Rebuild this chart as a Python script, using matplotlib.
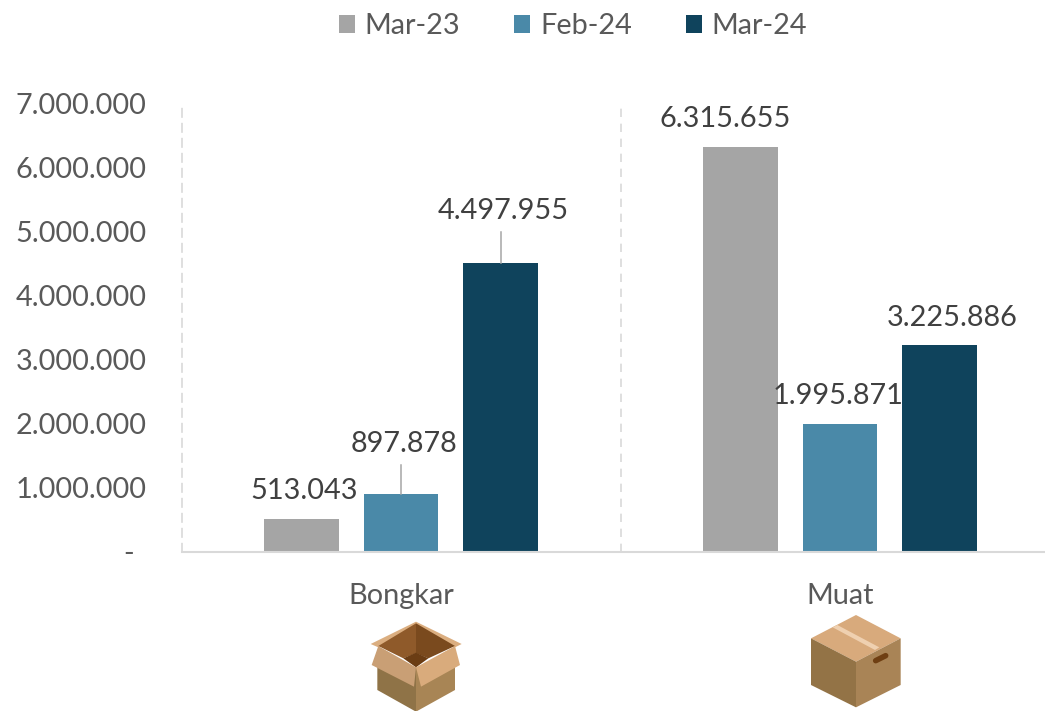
import numpy as np
import matplotlib
matplotlib.use("Agg")
import matplotlib.pyplot as plt
from matplotlib.patches import Polygon

plt.rcParams["font.family"] = ["Lato", "DejaVu Sans"]

categories = ["Bongkar", "Muat"]
series_names = ["Mar-23", "Feb-24", "Mar-24"]
mar_23 = [513043, 6315655]
feb_24 = [897878, 1995871]
mar_24 = [4497955, 3225886]
y_ticks = [0, 1000000, 2000000, 3000000, 4000000, 5000000, 6000000, 7000000]

colors = ["#A5A5A5", "#4A89A8", "#0F435C"]
W, H = 1045, 711
FS = 20.8

fig = plt.figure(figsize=(W / 100, H / 100), dpi=100)
# the plot area runs past the right edge of the picture, as in the original
ax = fig.add_axes([182 / W, 1 - 552 / H, 878 / W, 449 / H])

x = np.arange(len(categories)) - 0.5 / 439
step = 99.6 / 439
width = 74.5 / 439
bars = []
for i, vals in enumerate([mar_23, feb_24, mar_24]):
    bars.append(ax.bar(x + (i - 1) * step, vals, width, color=colors[i], label=series_names[i]))

ax.set_xlim(-0.5, 1.5)
ax.set_ylim(0, 7000000)
ax.set_yticks(y_ticks)
ax.set_yticklabels([f"{v:,}".replace(",", ".") if v else "-" for v in y_ticks])
ax.tick_params(axis="y", length=0, pad=25.5, labelsize=FS, labelcolor="#595959")
ax.set_xticks(np.arange(len(categories)))
ax.set_xticklabels(categories)
ax.tick_params(axis="x", length=0, pad=22.5, labelsize=FS, labelcolor="#595959")
ax.get_yticklabels()[0].set_x(-13 / 878)

for s in ["top", "right"]:
    ax.spines[s].set_visible(False)
ax.spines["bottom"].set_color("#D9D9D9")
ax.spines["bottom"].set_linewidth(1.5)
ax.spines["left"].set_color("#D9D9D9")
ax.spines["left"].set_linewidth(1.2)
ax.spines["left"].set_linestyle((0, (5, 4)))
ax.axvline(0.5, color="#D9D9D9", lw=1.2, ls=(0, (5, 4)))

# label offsets from the top centre of each bar, in pixels (dx, dy)
offsets = [
    [(3, 28), (-15, 28)],
    [(3, 50), (-2, 28)],
    [(3, 52), (13, 27)],
]
for i, group in enumerate(bars):
    for j, b in enumerate(group):
        v = b.get_height()
        cx = b.get_x() + b.get_width() / 2
        dx, dy = offsets[i][j]
        ax.annotate(f"{int(v):,}".replace(",", "."), (cx, v), xytext=(dx * 0.72, dy * 0.72),
                    textcoords="offset points", ha="center", va="center",
                    fontsize=FS, color="#404040", annotation_clip=False)
        if dy > 40:
            ax.plot([cx, cx], [v, v + (dy - 21) * 7000000 / 449], color="#A6A6A6", lw=1.1, clip_on=False)

handles = [b.patches[0] for b in bars]
fig.legend(handles, series_names, loc="center", bbox_to_anchor=(573 / W, 1 - 26 / H), ncol=3,
           frameon=False, fontsize=FS, labelcolor="#595959", handlelength=0.56, handleheight=0.56,
           handletextpad=0.35, columnspacing=1.85)

# box icons under the category names, drawn in picture pixels
ov = fig.add_axes([0, 0, 1, 1], facecolor="none")
ov.set_xlim(0, W)
ov.set_ylim(H, 0)
ov.axis("off")


def shape(ox, oy, pts, color):
    # pts come from a 3x crop of the icon
    ov.add_patch(Polygon([(ox + a / 3, oy + b / 3) for a, b in pts], closed=True, fc=color, ec="none"))


# open box
ox, oy = 340, 570
shape(ox, oy, [(228, 155), (92, 222), (115, 232), (228, 170), (345, 232), (365, 222)], "#DBAE80")
shape(ox, oy, [(228, 160), (115, 228), (190, 265), (228, 250)], "#8F5A2A")
shape(ox, oy, [(228, 160), (345, 228), (265, 265), (228, 250)], "#7A4A1E")
shape(ox, oy, [(190, 265), (228, 248), (265, 265), (228, 292)], "#6B3D14")
shape(ox, oy, [(112, 270), (228, 292), (228, 425), (112, 360)], "#8F7347")
shape(ox, oy, [(345, 270), (228, 292), (228, 425), (345, 360)], "#A88555")
shape(ox, oy, [(115, 228), (228, 292), (222, 350), (95, 285)], "#C99F75")
shape(ox, oy, [(345, 228), (228, 292), (243, 350), (360, 285)], "#D9AB7C")

# closed box
ox, oy = 780, 570
shape(ox, oy, [(228, 135), (362, 205), (228, 275), (93, 205)], "#D8AA7C")
shape(ox, oy, [(93, 205), (228, 275), (228, 412), (93, 345)], "#937346")
shape(ox, oy, [(362, 205), (228, 275), (228, 412), (362, 345)], "#A98456")
shape(ox, oy, [(158, 172), (172, 165), (298, 232), (285, 240)], "#EFD0B0")
ov.plot([ox + 287 / 3, ox + 317 / 3], [oy + 272 / 3, oy + 257 / 3], color="#6F3F12", lw=4, solid_capstyle="round")

fig.savefig("out.png", dpi=100)
